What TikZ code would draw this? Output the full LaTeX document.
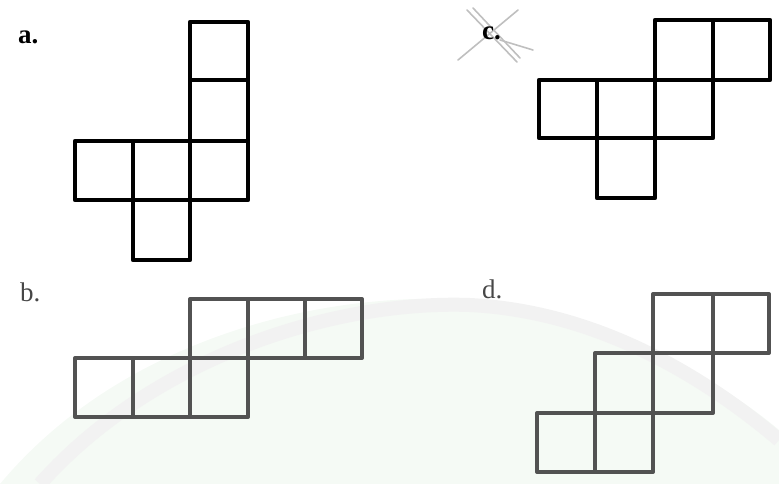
\documentclass[tikz,border=0pt]{standalone}
\usepackage{fontspec}
\setmainfont{Liberation Serif}
\begin{document}
\begin{tikzpicture}[x=1pt,y=-1pt,
  blacknet/.style={draw=black,line width=4.6pt,line join=round,line cap=round},
  graynet/.style={draw=black!68,line width=4pt,line join=round,line cap=round},
  lblA/.style={font=\fontsize{27}{27}\selectfont\bfseries,text=black,inner sep=0pt},
  lblB/.style={font=\fontsize{27}{27}\selectfont,text=black!72,inner sep=0pt},
  crossmark/.style={draw=black!25,line width=1.6pt,line cap=round}]
\useasboundingbox (0,0) rectangle (779,484);
% faint watermark arc
\fill[green!50!black!4] (0,484) .. controls (120,340) and (320,290) .. (470,300)
  .. controls (600,310) and (720,380) .. (779,430) -- (779,484) -- cycle;
\draw[black!5,line width=14pt] (40,484) .. controls (150,360) and (330,300) .. (470,305)
  .. controls (610,312) and (720,390) .. (779,440);
% a.
\node[lblA,anchor=base west] (la) at (18,44) {a.};
\draw[blacknet] (190,22) rectangle (248,80);
\draw[blacknet] (190,80) rectangle (248,141);
\draw[blacknet] (75,141) rectangle (133,200);
\draw[blacknet] (133,141) rectangle (190,200);
\draw[blacknet] (190,141) rectangle (248,200);
\draw[blacknet] (133,200) rectangle (190,260);
% c.
\draw[crossmark] (467,10) -- (517,62);
\draw[crossmark] (473,8) -- (520,58);
\draw[crossmark] (518,10) -- (458,60);
\draw[crossmark] (500,40) -- (533,50);
\node[lblA,anchor=base west] (lc) at (482,40) {c.};
\draw[blacknet] (655,20) rectangle (713,80);
\draw[blacknet] (713,20) rectangle (770,80);
\draw[blacknet] (539,80) rectangle (597,138);
\draw[blacknet] (597,80) rectangle (655,138);
\draw[blacknet] (655,80) rectangle (713,138);
\draw[blacknet] (597,138) rectangle (655,198);
% b.
\node[lblB,anchor=base west] (lb) at (20,301) {b.};
\draw[graynet] (190,299) rectangle (248,358);
\draw[graynet] (248,299) rectangle (305,358);
\draw[graynet] (305,299) rectangle (362,358);
\draw[graynet] (75,358) rectangle (133,417);
\draw[graynet] (133,358) rectangle (190,417);
\draw[graynet] (190,358) rectangle (248,417);
% d.
\node[lblB,anchor=base west] (ld) at (482,298) {d.};
\draw[graynet] (653,294) rectangle (713,353);
\draw[graynet] (713,294) rectangle (769,353);
\draw[graynet] (595,353) rectangle (653,413);
\draw[graynet] (653,353) rectangle (713,413);
\draw[graynet] (537,413) rectangle (595,472);
\draw[graynet] (595,413) rectangle (653,472);
\end{tikzpicture}
\end{document}
